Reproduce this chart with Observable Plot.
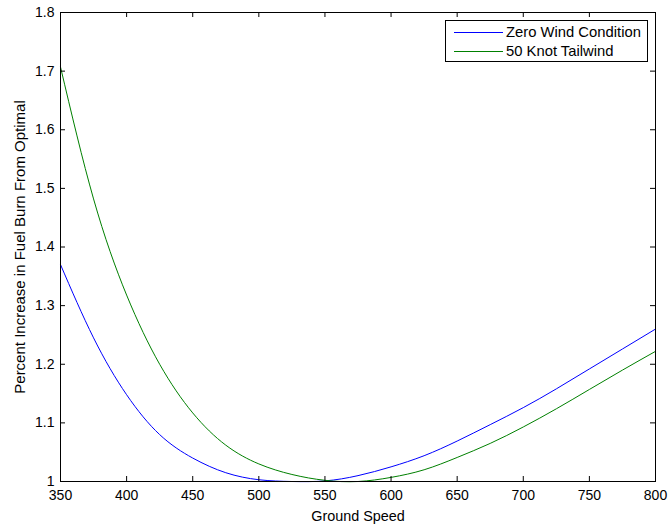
<!DOCTYPE html>
<html><head><meta charset="utf-8">
<script src="https://cdn.jsdelivr.net/npm/d3@7"></script>
<script src="https://cdn.jsdelivr.net/npm/@observablehq/plot@0.6"></script>
<style>
body{margin:0;background:#fff;}
#wrap{position:relative;width:669px;height:527px;font-family:"Liberation Sans",Arial,sans-serif;}
#legend{position:absolute;left:445px;top:20px;width:203px;height:42px;border:1px solid #000;background:#fff;box-sizing:border-box;font-size:14.8px;color:#000;}
.row{position:absolute;left:0;height:18px;width:100%;}
.sw{position:absolute;left:8px;width:49px;height:0;border-top:1px solid;}
.lt{position:absolute;left:60px;white-space:nowrap;line-height:18px;}
</style>
</head><body>
<div id="wrap"></div>
<script>
const blueX = [350, 375, 400, 425, 450, 475, 500, 525, 550, 575, 600, 625, 650, 675, 700, 725, 750, 775, 800];
const blueY = [1.370, 1.245, 1.148, 1.080, 1.040, 1.015, 1.003, 1.000, 1.001, 1.010, 1.025, 1.044, 1.069, 1.097, 1.126, 1.158, 1.192, 1.226, 1.260];
const greenX = [350, 375, 400, 425, 450, 475, 500, 525, 550, 575, 600, 625, 650, 675, 700, 725, 750, 775, 800];
const greenY = [1.707, 1.482, 1.318, 1.200, 1.117, 1.062, 1.030, 1.012, 1.002, 1.000, 1.007, 1.020, 1.041, 1.065, 1.093, 1.124, 1.157, 1.190, 1.222];
const seriesNames = ["Zero Wind Condition", "50 Knot Tailwind"];
const seriesColors = ["#0000ff", "#008000"];
const xTicks = [350, 400, 450, 500, 550, 600, 650, 700, 750, 800];
const yTicks = [1, 1.1, 1.2, 1.3, 1.4, 1.5, 1.6, 1.7, 1.8];
const yTickLabels = ["1", "1.1", "1.2", "1.3", "1.4", "1.5", "1.6", "1.7", "1.8"];
const xLabel = "Ground Speed";
const yLabel = "Percent Increase in Fuel Burn From Optimal";

const data = [
  ...blueX.map((x, i) => ({x, y: blueY[i], s: seriesNames[0]})),
  ...greenX.map((x, i) => ({x, y: greenY[i], s: seriesNames[1]}))
];

const W = 669, H = 527, ML = 60, MR = 14, MT = 12, MB = 46;
const PW = W - ML - MR, PH = H - MT - MB, TICK = 5;

const chart = Plot.plot({
  width: W, height: H,
  marginLeft: ML, marginRight: MR, marginTop: MT, marginBottom: MB,
  style: {fontFamily: '"Liberation Sans", Arial, sans-serif', fontSize: "14px", color: "#000", background: "#fff"},
  x: {domain: [350, 800]},
  y: {domain: [1, 1.8]},
  color: {domain: seriesNames, range: seriesColors},
  marks: [
    Plot.line(data, {x: "x", y: "y", z: "s", stroke: "s", strokeWidth: 1, curve: "natural"}),
    Plot.tickX(xTicks, {x: d => d, stroke: "#000", insetTop: PH - TICK}),
    Plot.tickX(xTicks, {x: d => d, stroke: "#000", insetBottom: PH - TICK}),
    Plot.tickY(yTicks, {y: d => d, stroke: "#000", insetRight: PW - TICK}),
    Plot.tickY(yTicks, {y: d => d, stroke: "#000", insetLeft: PW - TICK}),
    Plot.frame({stroke: "#000", strokeWidth: 1}),
    Plot.axisX({anchor: "bottom", ticks: xTicks, tickSize: 0, tickPadding: 9, fontSize: 14, label: null}),
    Plot.axisY({anchor: "left", ticks: yTicks, tickSize: 0, tickPadding: 6, fontSize: 14, tickFormat: (d, i) => yTickLabels[i], label: null}),
    Plot.text([xLabel], {text: d => d, frameAnchor: "bottom", dy: 35, fontSize: 14.4, lineAnchor: "middle"}),
    Plot.text([yLabel], {text: d => d, frameAnchor: "left", textAnchor: "middle", dx: -40, rotate: -90, fontSize: 15, lineAnchor: "middle"})
  ]
});
const wrap = document.getElementById("wrap");
wrap.appendChild(chart);

const legend = document.createElement("div");
legend.id = "legend";
seriesNames.forEach((name, i) => {
  const row = document.createElement("div");
  row.className = "row";
  row.style.top = (2 + i * 18.7) + "px";
  const sw = document.createElement("div");
  sw.className = "sw";
  sw.style.top = "9px";
  sw.style.borderColor = seriesColors[i];
  const lt = document.createElement("div");
  lt.className = "lt";
  lt.textContent = name;
  row.appendChild(sw); row.appendChild(lt);
  legend.appendChild(row);
});
wrap.appendChild(legend);
</script>
</body></html>
